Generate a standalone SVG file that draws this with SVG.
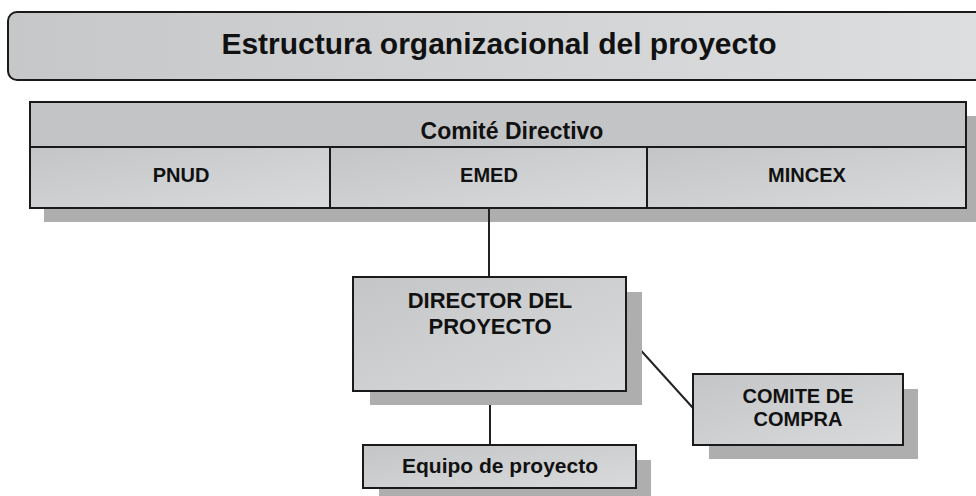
<svg xmlns="http://www.w3.org/2000/svg" width="976" height="496" viewBox="0 0 976 496">
<defs>
<linearGradient id="g1" x1="0" y1="0" x2="1" y2="0">
<stop offset="0" stop-color="#c6c7c8"/><stop offset="0.5" stop-color="#d2d3d4"/><stop offset="1" stop-color="#dcdedf"/>
</linearGradient>
<linearGradient id="g2" x1="0" y1="0" x2="1" y2="1">
<stop offset="0" stop-color="#c4c5c6"/><stop offset="1" stop-color="#d8dadb"/>
</linearGradient>
<style>
.box{fill:url(#g2);stroke:#1a1a1a;stroke-width:2}
.shadow{fill:#aeaeae}
.t{font-family:"Liberation Sans",Arial,sans-serif;font-weight:bold;fill:#111;text-anchor:middle}
.ln{stroke:#222;stroke-width:2;fill:none}
</style>
</defs>
<rect width="976" height="496" fill="#ffffff"/>
<g id="title">
<rect x="8" y="12" width="990" height="68" rx="9" fill="url(#g1)" stroke="#1a1a1a" stroke-width="2"/>
<text class="t" x="499" y="54" font-size="30">Estructura organizacional del proyecto</text>
</g>
<g id="comite-directivo">
<rect class="shadow" x="44" y="116" width="940" height="106"/>
<rect x="30" y="102" width="936" height="45" fill="#c3c4c5" stroke="#1a1a1a" stroke-width="2"/>
<text class="t" x="512" y="139" font-size="23">Comité Directivo</text>
</g>
<g id="pnud">
<rect class="box" x="30" y="147" width="300" height="61" fill="#d0d2d3"/>
<text class="t" x="181" y="182" font-size="20">PNUD</text>
</g>
<g id="emed">
<rect class="box" x="330" y="147" width="317" height="61"/>
<text class="t" x="489" y="182" font-size="20">EMED</text>
</g>
<g id="mincex">
<rect class="box" x="647" y="147" width="319" height="61"/>
<text class="t" x="807" y="182" font-size="20">MINCEX</text>
</g>
<g id="connectors">
<line class="ln" x1="489" y1="208" x2="489" y2="277"/>
<line class="ln" x1="490" y1="391" x2="490" y2="445"/>
<line class="ln" x1="626" y1="334" x2="693" y2="408"/>
</g>
<g id="director">
<rect class="shadow" x="370" y="292" width="272" height="113"/>
<rect class="box" x="353" y="277" width="273" height="114"/>
<text class="t" x="490" y="308" font-size="22">DIRECTOR DEL</text>
<text class="t" x="490" y="334" font-size="22">PROYECTO</text>
</g>
<g id="comite-compra">
<rect class="shadow" x="709" y="389" width="209" height="70"/>
<rect class="box" x="693" y="374" width="210" height="71"/>
<text class="t" x="798" y="403" font-size="20">COMITE DE</text>
<text class="t" x="798" y="426" font-size="20">COMPRA</text>
</g>
<g id="equipo">
<rect class="shadow" x="379" y="460" width="272" height="40"/>
<rect class="box" x="363" y="445" width="273" height="43"/>
<text class="t" x="500" y="473" font-size="21">Equipo de proyecto</text>
</g>
</svg>
